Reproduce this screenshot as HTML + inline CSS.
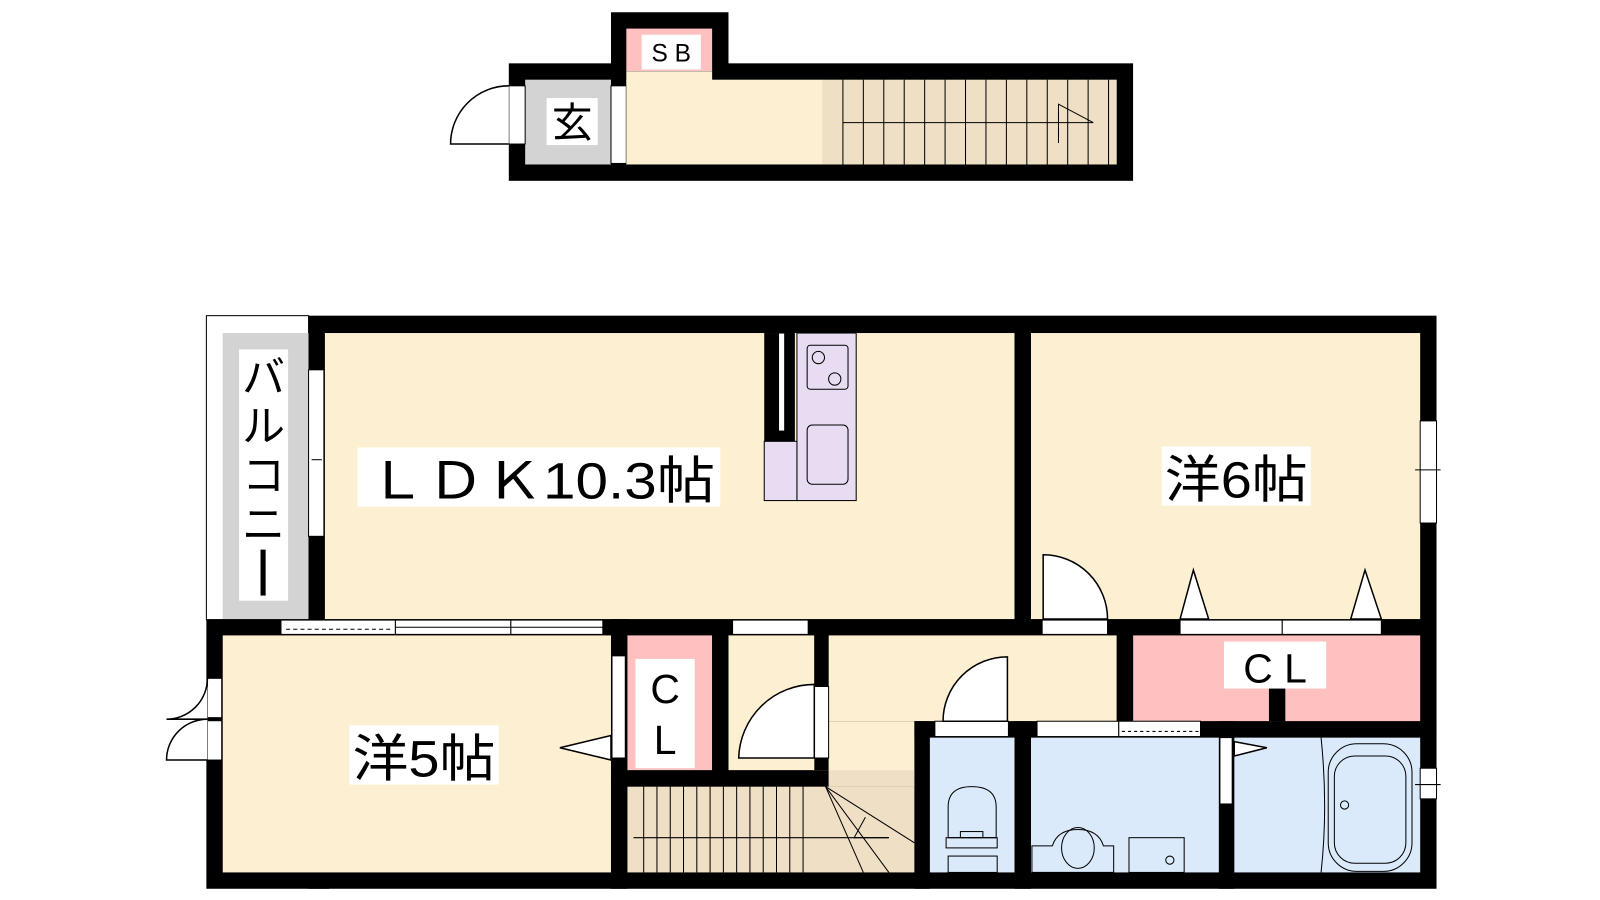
<!DOCTYPE html>
<html><head><meta charset="utf-8"><style>
html,body{margin:0;padding:0;background:#fff;width:1600px;height:900px;overflow:hidden}
text{font-family:"Liberation Sans","Noto Sans CJK JP",sans-serif;fill:#000}
</style></head><body>
<svg width="1600" height="900" viewBox="0 0 1566 881" preserveAspectRatio="none" xmlns="http://www.w3.org/2000/svg">
<rect width="1566" height="881" fill="#fff"/>
<!-- TOP UNIT -->
<rect x="498" y="62" width="611" height="115" fill="#000"/>
<rect x="598" y="12" width="115" height="66" fill="#000"/>
<rect x="613" y="28" width="84" height="42" fill="#ffc0c0"/>
<line x1="613" y1="70" x2="697" y2="70" stroke="#888" stroke-width="1"/>
<rect x="613" y="70" width="84" height="10" fill="#fdf0d2"/>
<rect x="514" y="78" width="84" height="83" fill="#d3d3d3"/>
<rect x="598" y="84" width="15" height="76" fill="#fff" stroke="#000" stroke-width="1"/>
<rect x="613" y="78" width="192" height="83" fill="#fdf0d2"/>
<rect x="805" y="78" width="288" height="83" fill="#efdfc4"/>
<g stroke="#000" stroke-width="1">
<line x1="825" y1="78" x2="825" y2="161"/><line x1="845" y1="78" x2="845" y2="161"/><line x1="865" y1="78" x2="865" y2="161"/><line x1="885" y1="78" x2="885" y2="161"/><line x1="905" y1="78" x2="905" y2="161"/><line x1="925" y1="78" x2="925" y2="161"/><line x1="945" y1="78" x2="945" y2="161"/><line x1="965" y1="78" x2="965" y2="161"/><line x1="985" y1="78" x2="985" y2="161"/><line x1="1005" y1="78" x2="1005" y2="161"/><line x1="1025" y1="78" x2="1025" y2="161"/><line x1="1045" y1="78" x2="1045" y2="161"/><line x1="1065" y1="78" x2="1065" y2="161"/><line x1="1085" y1="78" x2="1085" y2="161"/>
<line x1="825" y1="120" x2="1070" y2="120"/>
<polyline points="1036,140 1036,102 1070,120" fill="none"/>
</g>
<rect x="498" y="84" width="16" height="57" fill="#fff" stroke="#000" stroke-width="1"/>
<path d="M498,84 A57,57 0 0 0 441,141 L498,141" fill="#fff" stroke="#000" stroke-width="1.5"/>
<rect x="535" y="96" width="50" height="46" fill="#fff"/>
<text x="560" y="134" font-size="40" text-anchor="middle">玄</text>
<rect x="628" y="34" width="58" height="34" fill="#fff"/>
<text x="657" y="60" font-size="24" text-anchor="middle">S B</text>

<!-- MAIN -->
<rect x="202" y="309" width="100" height="298" fill="#fff" stroke="#000" stroke-width="1"/>
<rect x="218" y="326" width="84" height="280" fill="#d3d3d3"/>
<rect x="302" y="309" width="1104" height="561" fill="#000"/>
<rect x="202" y="606" width="120" height="264" fill="#000"/>
<rect x="318" y="326" width="675" height="280" fill="#fdf0d2"/>
<rect x="1009" y="326" width="381" height="280" fill="#fdf0d2"/>
<rect x="218" y="622" width="380" height="232" fill="#fdf0d2"/>
<rect x="614" y="622" width="83" height="132" fill="#ffc0c0"/>
<rect x="713" y="622" width="84" height="132" fill="#fdf0d2"/>
<rect x="811" y="622" width="282" height="84" fill="#fdf0d2"/>
<rect x="811" y="706" width="84" height="64" fill="#fdf0d2"/>
<rect x="614" y="770" width="281" height="84" fill="#efdfc4"/>
<rect x="795" y="754" width="100" height="16" fill="#efdfc4"/>
<rect x="1109" y="622" width="281" height="84" fill="#ffc0c0"/>
<rect x="1242" y="674" width="16" height="32" fill="#000"/>
<rect x="910" y="722" width="83" height="132" fill="#dbeafb"/>
<rect x="1009" y="722" width="184" height="132" fill="#dbeafb"/>
<rect x="1208" y="722" width="182" height="132" fill="#dbeafb"/>
<g stroke="#000" stroke-width="1" fill="none">
<line x1="630" y1="770" x2="630" y2="854"/><line x1="643" y1="770" x2="643" y2="854"/><line x1="656" y1="770" x2="656" y2="854"/><line x1="669" y1="770" x2="669" y2="854"/><line x1="682" y1="770" x2="682" y2="854"/><line x1="695" y1="770" x2="695" y2="854"/><line x1="708" y1="770" x2="708" y2="854"/><line x1="721" y1="770" x2="721" y2="854"/><line x1="734" y1="770" x2="734" y2="854"/><line x1="747" y1="770" x2="747" y2="854"/><line x1="760" y1="770" x2="760" y2="854"/><line x1="773" y1="770" x2="773" y2="854"/><line x1="786" y1="770" x2="786" y2="854"/>
<line x1="808" y1="770" x2="895" y2="825"/><line x1="808" y1="770" x2="870" y2="854"/><line x1="808" y1="770" x2="845" y2="854"/>
<line x1="620" y1="820" x2="870" y2="820"/>
<polyline points="847,800 836,820 870,820"/>
</g>
<g fill="#000">
<rect x="993" y="326" width="16" height="280"/>
<rect x="598" y="606" width="16" height="264"/>
<rect x="697" y="622" width="16" height="132"/>
<rect x="598" y="754" width="213" height="16"/>
<rect x="797" y="622" width="14" height="50"/>
<rect x="1093" y="622" width="16" height="84"/>
<rect x="895" y="706" width="511" height="16"/>
<rect x="895" y="706" width="15" height="164"/>
<rect x="993" y="706" width="16" height="164"/>
<rect x="1193" y="706" width="15" height="164"/>
<rect x="748" y="326" width="30" height="106"/>
</g>
<g fill="#fff" stroke="#000" stroke-width="1">
<rect x="302" y="362" width="15" height="163"/>
<rect x="275" y="607" width="112" height="14"/>
<rect x="387" y="607" width="113" height="14"/>
<rect x="500" y="607" width="90" height="14"/>
<rect x="717" y="607" width="74" height="14"/>
<rect x="1020" y="607" width="64" height="14"/>
<rect x="1155" y="607" width="100" height="14"/>
<rect x="1255" y="607" width="97" height="14"/>
<rect x="1390" y="412" width="16" height="100"/>
<rect x="599" y="642" width="13" height="100"/>
<rect x="797" y="672" width="14" height="70"/>
<rect x="203" y="664" width="14" height="80"/>
<rect x="915" y="706" width="72" height="15"/>
<rect x="1015" y="706" width="80" height="15"/>
<rect x="1095" y="706" width="80" height="15"/>
<rect x="1194" y="722" width="12" height="65"/>
<rect x="1390" y="752" width="16" height="30"/>
<rect x="762" y="326" width="6" height="96"/>
</g>
<g stroke="#000" stroke-width="1" fill="none">
<line x1="280" y1="616" x2="385" y2="616" stroke-dasharray="4,3"/>
<line x1="1098" y1="716" x2="1173" y2="716" stroke-dasharray="3,3"/>
<line x1="387" y1="614" x2="590" y2="614"/>
<line x1="203" y1="704" x2="217" y2="704" stroke-width="4"/>
<line x1="305" y1="450" x2="315" y2="450"/>
<line x1="1385" y1="460" x2="1410" y2="460"/>
<line x1="1385" y1="768" x2="1410" y2="768"/>
</g>
<g fill="#fff" stroke="#000" stroke-width="1.5">
<path d="M203,664 A40,40 0 0 1 163,704 L203,704"/>
<path d="M203,704 A40,40 0 0 0 163,744 L203,744"/>
<path d="M797,670 A74,74 0 0 0 723,742 L797,742 Z"/>
<path d="M1021,543 A63,63 0 0 1 1084,606 L1021,606 Z"/>
<path d="M986,643 A63,63 0 0 0 923,706 L986,706 Z"/>
<path d="M1168,558 L1155,606 L1183,606 Z"/>
<path d="M1336,558 L1322,606 L1352,606 Z"/>
<path d="M598,720 L548,732 L598,744 Z"/>
<path d="M1208,726 L1240,732 L1208,740 Z"/>
</g>
<rect x="780" y="326" width="58" height="164" fill="#e8dcf2" stroke="#000" stroke-width="1"/>
<rect x="748" y="432" width="32" height="58" fill="#e8dcf2" stroke="#000" stroke-width="1"/>
<g fill="none" stroke="#000" stroke-width="1">
<rect x="790" y="338" width="40" height="43" rx="3"/>
<circle cx="801" cy="350" r="6"/><circle cx="817" cy="371" r="6"/>
<rect x="790" y="416" width="40" height="58" rx="5"/>
</g>
<g fill="none" stroke="#000" stroke-width="1">
<path d="M928,820 L928,790 Q928,770 951,770 Q975,770 975,790 L975,820 Z"/>
<rect x="926" y="820" width="50" height="10"/><rect x="940" y="814" width="22" height="6"/>
<rect x="928" y="838" width="48" height="16"/>
<path d="M1010,828 L1030,828 Q1035,812 1055,812 Q1075,812 1080,828 L1090,828 L1090,854 L1010,854 Z"/>
<ellipse cx="1055" cy="830" rx="16" ry="20"/>
<rect x="1105" y="820" width="54" height="34"/><circle cx="1145" cy="842" r="4"/>
<rect x="1300" y="728" width="82" height="125" rx="28"/>
<rect x="1306" y="740" width="70" height="105" rx="20"/>
<circle cx="1316" cy="788" r="4"/>
<path d="M1293,722 Q1300,790 1293,854"/>
</g>
<rect x="350" y="438" width="355" height="58" fill="#fff"/>
<text x="360" y="488" font-size="50" textLength="340" lengthAdjust="spacingAndGlyphs">ＬＤＫ10.3帖</text>
<rect x="1137" y="437" width="146" height="58" fill="#fff"/>
<text x="1140" y="487" font-size="50" textLength="140" lengthAdjust="spacingAndGlyphs">洋6帖</text>
<rect x="342" y="710" width="146" height="58" fill="#fff"/>
<text x="345" y="760" font-size="50" textLength="140" lengthAdjust="spacingAndGlyphs">洋5帖</text>
<rect x="1198" y="628" width="100" height="46" fill="#fff"/>
<text x="1248" y="668" font-size="40" text-anchor="middle">C L</text>
<rect x="622" y="645" width="58" height="107" fill="#fff"/>
<text x="651" y="688" font-size="40" text-anchor="middle">C</text>
<text x="651" y="738" font-size="40" text-anchor="middle">L</text>
<rect x="234" y="342" width="48" height="246" fill="#fff"/>
<g font-size="42" text-anchor="middle">
<text x="258" y="384">バ</text><text x="258" y="432">ル</text><text x="258" y="480">コ</text><text x="258" y="528">ニ</text>
</g>
<rect x="255" y="538" width="5" height="45" fill="#000"/>
</svg>
</body></html>
